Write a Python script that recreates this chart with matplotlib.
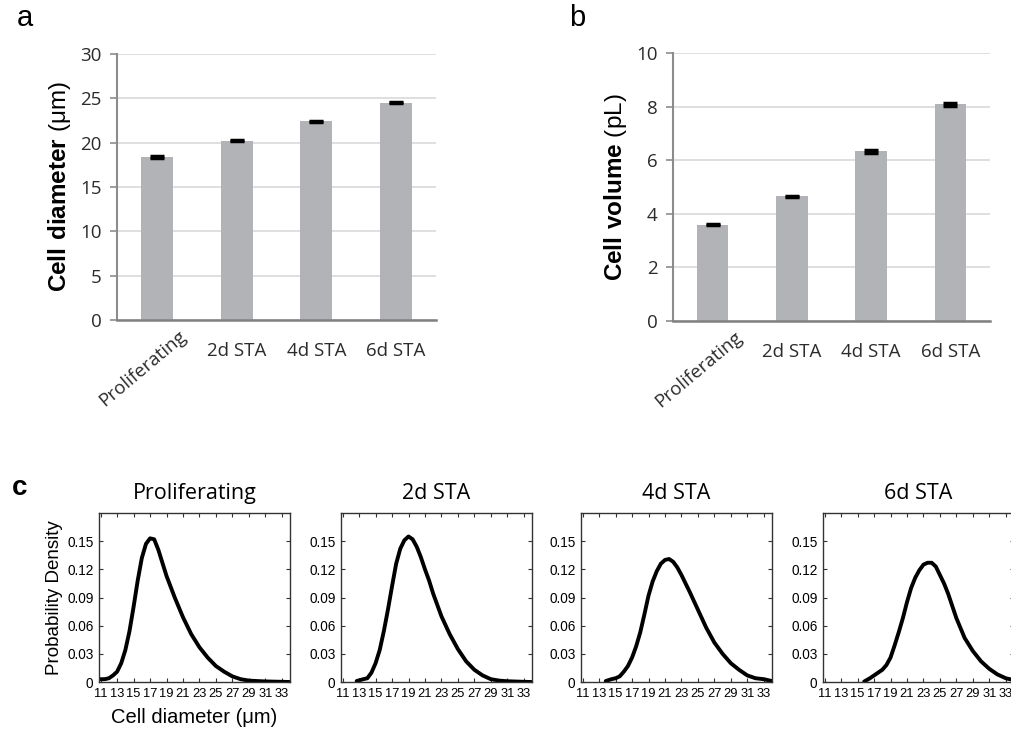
# Cell size panels: bar charts (a, b) and diameter distributions (c)
import numpy as np
import matplotlib
matplotlib.use('Agg')
import matplotlib.pyplot as plt

plt.rcParams['mathtext.fontset'] = 'custom'
plt.rcParams['mathtext.bf'] = 'Liberation Sans:bold'
plt.rcParams['mathtext.rm'] = 'Liberation Sans'

# Data
conditions = ['Proliferating', '2d STA', '4d STA', '6d STA']
diameter_mean = [18.4, 20.2, 22.4, 24.5]
diameter_err = [0.12, 0.05, 0.05, 0.05]
volume_mean = [3.6, 4.65, 6.33, 8.08]
volume_err = [0.03, 0.03, 0.05, 0.05]

# Probability density curves
prolif_x = [10.8, 11.5, 12, 12.5, 13, 13.5, 14, 14.5, 15, 15.5, 16, 16.5, 17, 17.5, 18, 18.5,
            19, 20, 21, 22, 23, 24, 25, 26, 27, 28, 29, 30, 31, 32, 33, 34]
prolif_y = [0.003, 0.003, 0.004, 0.007, 0.011, 0.020, 0.034, 0.054, 0.080, 0.108, 0.132, 0.147,
            0.153, 0.152, 0.141, 0.127, 0.113, 0.090, 0.069, 0.051, 0.037, 0.026, 0.017, 0.011,
            0.006, 0.003, 0.0015, 0.001, 0.0006, 0.0004, 0.0002, 0.0]
sta2_x = [12.7, 13.5, 14, 14.5, 15, 15.5, 16, 16.5, 17, 17.5, 18, 18.5, 19, 19.5, 20, 20.5,
          21, 21.5, 22, 23, 24, 25, 26, 27, 28, 29, 30, 31, 32, 33, 34]
sta2_y = [0.001, 0.003, 0.004, 0.010, 0.020, 0.034, 0.054, 0.077, 0.102, 0.126, 0.142, 0.151,
          0.155, 0.152, 0.144, 0.133, 0.120, 0.108, 0.094, 0.070, 0.051, 0.035, 0.022, 0.013,
          0.007, 0.003, 0.0015, 0.0008, 0.0005, 0.0002, 0.0]
sta4_x = [13.8, 14.5, 15, 15.5, 16, 16.5, 17, 17.5, 18, 18.5, 19, 19.5, 20, 20.5, 21, 21.5,
          22, 22.5, 23, 24, 25, 26, 27, 28, 29, 30, 31, 32, 33, 34]
sta4_y = [0.001, 0.003, 0.004, 0.006, 0.011, 0.017, 0.026, 0.038, 0.053, 0.072, 0.092, 0.107,
          0.118, 0.126, 0.130, 0.131, 0.128, 0.122, 0.114, 0.096, 0.077, 0.058, 0.042, 0.030,
          0.020, 0.013, 0.007, 0.004, 0.003, 0.001]
sta6_x = [15.8, 16.5, 17, 17.5, 18, 18.5, 19, 19.5, 20, 20.5, 21, 21.5, 22, 22.5, 23, 23.5,
          24, 24.5, 25, 25.5, 26, 27, 28, 29, 30, 31, 32, 33, 34]
sta6_y = [0.0005, 0.004, 0.007, 0.010, 0.013, 0.018, 0.026, 0.039, 0.053, 0.068, 0.085, 0.100,
          0.111, 0.119, 0.125, 0.127, 0.127, 0.123, 0.114, 0.105, 0.094, 0.068, 0.047, 0.033,
          0.022, 0.014, 0.008, 0.004, 0.002]
curves = [(prolif_x, prolif_y), (sta2_x, sta2_y), (sta4_x, sta4_y), (sta6_x, sta6_y)]

bar_color = '#B2B3B6'
tick_font = 'Open Sans'
arial = 'Liberation Sans'

fig = plt.figure(figsize=(10.11, 7.4), dpi=100)


def bar_panel(rect, means, errs, ymax, ystep, ylabel, letter, letter_x):
    ax = fig.add_axes(rect)
    x = np.arange(len(conditions))
    ax.bar(x, means, width=0.4, color=bar_color, zorder=2)
    ax.errorbar(x, means, yerr=errs, fmt='none', ecolor='black', elinewidth=2,
                capsize=5, capthick=2.5, zorder=3)
    ax.set_xlim(-0.5, len(conditions) - 0.5)
    ax.set_ylim(0, ymax)
    ax.set_yticks(np.arange(0, ymax + ystep / 2, ystep))
    ax.grid(axis='y', color='#D9D9D9', linewidth=1.2, zorder=0)
    for s in ['top', 'right']:
        ax.spines[s].set_visible(False)
    ax.spines['left'].set_color('#8C8C8C')
    ax.spines['left'].set_linewidth(1.5)
    ax.spines['bottom'].set_color('#808080')
    ax.spines['bottom'].set_linewidth(1.8)
    ax.spines['bottom'].set_zorder(4)
    ax.tick_params(axis='y', direction='out', length=5, width=1.2, color='#8C8C8C',
                   labelsize=13.5, labelcolor='#2b2b2b', pad=6)
    for lab in ax.get_yticklabels():
        lab.set_fontfamily(tick_font)
    ax.tick_params(axis='x', length=0, labelbottom=False)
    # category labels: first one rotated, like the original spreadsheet chart
    for i, name in enumerate(conditions):
        if i == 0:
            ax.annotate(name, xy=(i, 0), xycoords=ax.get_xaxis_transform(),
                        xytext=(27, -14), textcoords='offset pixels', rotation=40,
                        rotation_mode='anchor', ha='right', va='center', fontsize=13.5,
                        color='#2b2b2b', family=tick_font)
        else:
            ax.annotate(name, xy=(i, 0), xycoords=ax.get_xaxis_transform(),
                        xytext=(0, -31), textcoords='offset pixels', ha='center',
                        va='center', fontsize=13.5, color='#2b2b2b', family=tick_font)
    ax.set_ylabel(ylabel, fontsize=17.5, family=arial, labelpad=5)
    fig.text(letter_x, 1 - 18 / 740, letter, fontsize=21, family=arial,
             ha='center', va='center')
    return ax


ax_a = bar_panel([117 / 1011, 1 - 320 / 740, 319 / 1011, 266 / 740], diameter_mean, diameter_err,
                 30, 5, r'$\mathbf{Cell\ diameter}$ (μm)', 'a', 25 / 1011)
ax_b = bar_panel([673 / 1011, 1 - 321 / 740, 317 / 1011, 268 / 740], volume_mean, volume_err,
                 10, 2, r'$\mathbf{Cell\ volume}$ (pL)', 'b', 577 / 1011)

# Panel c: distributions
lefts = [99, 341, 581, 823]
for k, (name, (cx, cy)) in enumerate(zip(conditions, curves)):
    ax = fig.add_axes([lefts[k] / 1011, 1 - 682 / 740, 191 / 1011, 169 / 740])
    ax.plot(cx, cy, color='black', linewidth=2.8, solid_capstyle='round')
    ax.set_xlim(10.8, 34)
    ax.set_ylim(0, 0.18)
    ax.set_xticks(np.arange(11, 34, 2))
    ax.set_yticks([0, 0.03, 0.06, 0.09, 0.12, 0.15])
    ax.set_yticklabels(['0', '0.03', '0.06', '0.09', '0.12', '0.15'])
    ax.tick_params(direction='in', length=3, width=0.8, top=True, right=True,
                   labelsize=9.8, pad=4, color='#333333')
    ax.tick_params(axis='x', labelsize=9.3)
    for lab in ax.get_xticklabels() + ax.get_yticklabels():
        lab.set_family(arial)
    for s in ax.spines.values():
        s.set_color('#333333')
        s.set_linewidth(1.0)
    ax.set_title(name, fontsize=15.5, family=tick_font, pad=10)
    if k == 0:
        ax.set_ylabel('Probability Density', fontsize=13.5, family=arial, labelpad=3)
        ax.set_xlabel('Cell diameter (μm)', fontsize=14.5, family=arial, labelpad=6)

fig.text(20 / 1011, 1 - 488 / 740, 'c', fontsize=20, family=arial,
         fontweight='bold', ha='center', va='center')

fig.savefig('out.png', dpi=100)
